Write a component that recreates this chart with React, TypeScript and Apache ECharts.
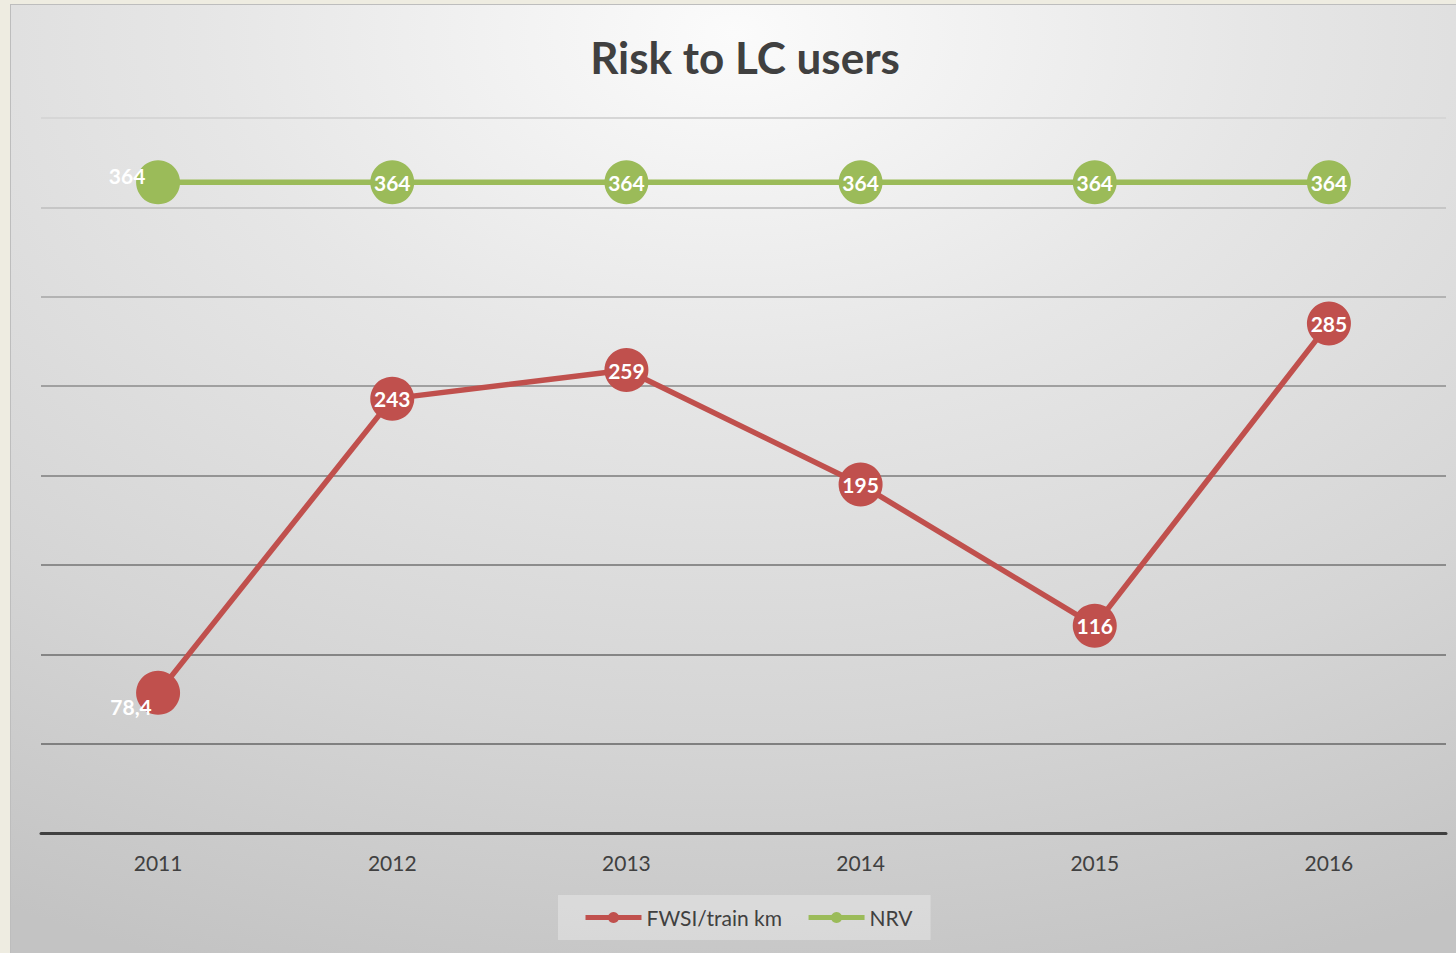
import React, { useEffect, useRef } from "react";
import * as echarts from "echarts";

const categories = ["2011", "2012", "2013", "2014", "2015", "2016"];
const fwsiValues = [78.4, 243, 259, 195, 116, 285];
const nrvValues = [364, 364, 364, 364, 364, 364];
const seriesNames = ["FWSI/train km", "NRV"];
const chartTitle = "Risk to LC users";

const RED = "#C0504D";
const GREEN = "#9BBB59";
const FONT = "Lato, 'Open Sans', sans-serif";

export default function App() {
  const ref = useRef<HTMLDivElement>(null);

  useEffect(() => {
    if (!ref.current) return;
    const chart = echarts.init(ref.current, undefined, { renderer: "svg" });

    const fmt = (p: any) => String(p.value).replace(".", ",");

    const fwsiData = fwsiValues.map((v, i) =>
      i === 0 ? { value: v, label: { offset: [-27, 14] } } : { value: v }
    );
    const nrvData = nrvValues.map((v, i) =>
      i === 0 ? { value: v, label: { offset: [-31, -7] } } : { value: v }
    );

    const labelStyle = {
      show: true,
      position: "inside",
      color: "#ffffff",
      fontFamily: FONT,
      fontWeight: "bold",
      fontSize: 21,
      formatter: fmt,
    };

    chart.setOption({
      animation: false,
      backgroundColor: {
        type: "radial",
        x: 0.5,
        y: 0.03,
        r: 1.05,
        colorStops: [
          { offset: 0, color: "#fbfbfb" },
          { offset: 0.35, color: "#e6e6e6" },
          { offset: 0.7, color: "#d5d5d5" },
          { offset: 1, color: "#c3c3c3" },
        ],
      },
      title: {
        text: chartTitle,
        left: 729,
        top: 25,
        textAlign: "center",
        textStyle: {
          fontFamily: FONT,
          fontWeight: "bold",
          fontSize: 44,
          color: "#404040",
        },
      },
      grid: { left: 30, right: 10, top: 113, bottom: 120, containLabel: false },
      legend: {
        data: seriesNames,
        left: 547,
        top: 890,
        padding: [12, 18, 12, 25],
        backgroundColor: "rgba(255,255,255,0.3)",
        itemWidth: 56,
        itemHeight: 14,
        itemGap: 24,
        lineStyle: { width: 5 },
        textStyle: { fontFamily: FONT, fontSize: 21, color: "#404040" },
      },
      xAxis: {
        type: "category",
        data: categories,
        boundaryGap: true,
        axisLine: { lineStyle: { color: "#404040", width: 3 } },
        axisTick: { show: false },
        axisLabel: {
          margin: 19,
          fontFamily: FONT,
          fontSize: 21,
          color: "#404040",
        },
      },
      yAxis: {
        type: "value",
        min: 0,
        max: 400,
        interval: 50,
        axisLabel: { show: false },
        axisLine: { show: false },
        axisTick: { show: false },
        splitLine: {
          lineStyle: {
            width: 2,
            color: [
              "#808080",
              "#808080",
              "#858585",
              "#8c8c8c",
              "#949494",
              "#a0a0a0",
              "#b3b3b3",
              "#c6c6c6",
              "#d6d6d6",
            ],
          },
        },
      },
      series: [
        {
          name: seriesNames[0],
          type: "line",
          data: fwsiData,
          symbol: "circle",
          symbolSize: 44,
          lineStyle: { color: RED, width: 5.5 },
          itemStyle: { color: RED },
          label: labelStyle,
        },
        {
          name: seriesNames[1],
          type: "line",
          data: nrvData,
          symbol: "circle",
          symbolSize: 44,
          lineStyle: { color: GREEN, width: 5.5 },
          itemStyle: { color: GREEN },
          label: labelStyle,
        },
      ],
    });

    return () => chart.dispose();
  }, []);

  return (
    <div
      style={{
        position: "fixed",
        left: 0,
        top: 0,
        width: 1456,
        height: 953,
        background: "#EEECE1",
        overflow: "hidden",
      }}
    >
      <div
        style={{
          position: "absolute",
          left: 10,
          top: 4,
          width: 1446,
          height: 949,
          background: "#bdbdbd",
        }}
      >
        <div
          ref={ref}
          style={{
            position: "absolute",
            left: 1,
            top: 1,
            width: 1445,
            height: 948,
          }}
        />
      </div>
    </div>
  );
}
